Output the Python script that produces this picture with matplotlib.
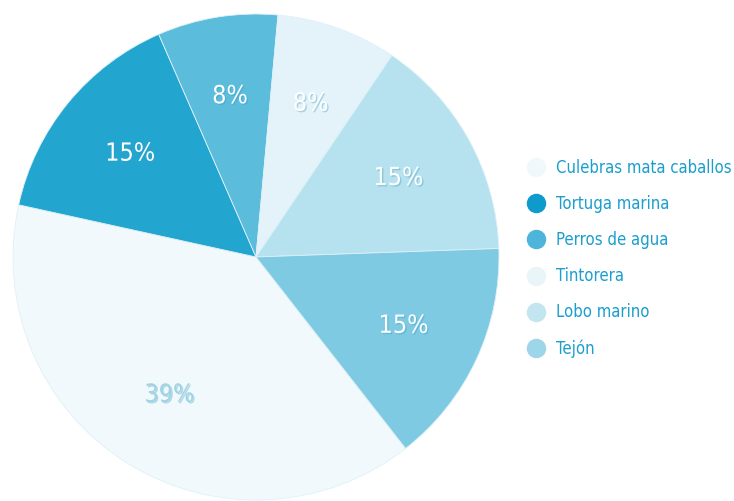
import matplotlib
matplotlib.use("Agg")
import matplotlib.pyplot as plt
from matplotlib.lines import Line2D
import matplotlib.patheffects as pe
from matplotlib import font_manager as fm

categories = ["Culebras mata caballos", "Tortuga marina", "Perros de agua",
              "Tintorera", "Lobo marino", "Tejón"]
values = [39, 15, 8, 8, 15, 15]
slice_colors = ["#f2f9fc", "#22a6cf", "#5bbcdc", "#e3f3f9", "#b6e1ef", "#7fcae3"]
legend_colors = ["#eff8fb", "#0e9bcb", "#4db5da", "#eaf5f9", "#c2e5f0", "#9dd6e8"]
label_colors = ["#9fd3e6", "white", "white", "white", "white", "white"]

# pick a condensed font if one is installed
cond_file = None
for f in fm.fontManager.ttflist:
    if 'Narrow' in f.name or 'Condensed' in f.name or f.stretch in ('condensed', 'semi-condensed'):
        if 'Bold' not in f.fname and 'Oblique' not in f.fname and 'Italic' not in f.fname:
            cond_file = f.fname
            break
if cond_file:
    fp = fm.FontProperties(fname=cond_file)
else:
    fp = fm.FontProperties(family='DejaVu Sans')

fig = plt.figure(figsize=(7.34, 5.01), dpi=100)
ax = fig.add_axes([13/734, 1/501, 486/734, 486/501])

wedges, texts, autotexts = ax.pie(
    values, colors=slice_colors, startangle=-52, counterclock=False,
    autopct=lambda p: f"{p:.0f}%", pctdistance=0.67,
    wedgeprops=dict(linewidth=0.6, edgecolor="#dff1f8"))
for t, c in zip(autotexts, label_colors):
    t.set_color(c)
    t.set_fontproperties(fp)
    t.set_fontsize(18 if cond_file else 14)
    t.set_path_effects([pe.withSimplePatchShadow(offset=(1, -1), shadow_rgbFace="#3a9cc0", alpha=0.35)])
ax.set_aspect('equal')
ax.set_xlim(-1.0, 1.0)
ax.set_ylim(-1.0, 1.0)
ax.axis('off')

handles = [Line2D([0], [0], marker='o', linestyle='none', markersize=13,
                  markerfacecolor=c, markeredgecolor=c) for c in legend_colors]
lp = fp.copy()
lp.set_size(12 if cond_file else 10.5)
leg = fig.legend(handles, categories, loc='upper left', bbox_to_anchor=(518/734, 1 - 151/501),
                 frameon=False, prop=lp, labelspacing=1.08,
                 handletextpad=0.55, handlelength=1.2, borderpad=0)
for t in leg.get_texts():
    t.set_color("#1a9fcc")

fig.savefig("out.png", dpi=100)
